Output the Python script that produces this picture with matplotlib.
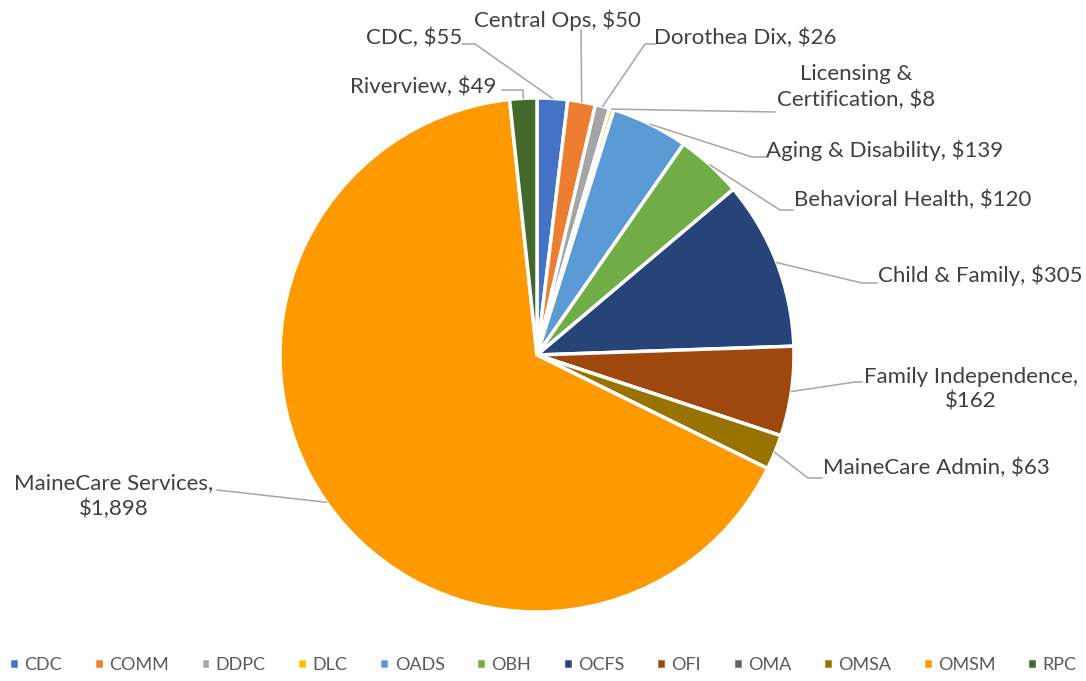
import matplotlib.pyplot as plt
import numpy as np

plt.rcParams['font.family'] = ['Lato', 'DejaVu Sans']

codes = ['CDC', 'COMM', 'DDPC', 'DLC', 'OADS', 'OBH', 'OCFS', 'OFI', 'OMA', 'OMSA', 'OMSM', 'RPC']
values = [55, 50, 26, 8, 139, 120, 305, 162, 0, 63, 1898, 49]
names = ['CDC, ', 'Central Ops, ', 'Dorothea Dix, ', 'Licensing &\nCertification, ', 'Aging & Disability, ',
         'Behavioral Health, ', 'Child & Family, ', 'Family Independence,\n', None, 'MaineCare Admin, ',
         'MaineCare Services,\n', 'Riverview, ']
colors = ['#4472C4', '#ED7D31', '#A5A5A5', '#FFC000', '#5B9BD5', '#70AD47',
          '#264478', '#9E480E', '#636363', '#997300', '#FF9900', '#43682B']

# label layout in pixels: text centre, then leader line points after the slice edge
label_pos = {
    0: ((414, 38), [(475, 44), (462, 44)]),
    1: ((557, 20), [(581, 30)]),
    2: ((745, 38), [(645, 44), (655, 44)]),
    3: ((856, 87), [(775, 112)]),
    4: ((885, 150), [(752, 157), (768, 157)]),
    5: ((913, 200), [(780, 210), (793, 210)]),
    6: ((980, 275), [(862, 283), (877, 283)]),
    7: ((971, 389), [(855, 382), (862, 382)]),
    9: ((936, 468), [(808, 478), (822, 478)]),
    10: ((114, 496), [(217, 490)]),
    11: ((423, 87), [(523, 90), (502, 90)]),
}

W, H = 1086, 681
cx, cy, R = 537, 355, 257

fig = plt.figure(figsize=(W / 100, H / 100), dpi=100)
ax = fig.add_axes([0, 0, 1, 1])


def px(x, y):
    return (x - cx) / R, (cy - y) / R


wedges, _ = ax.pie(values, colors=colors, startangle=90, counterclock=False, radius=1.0,
                   wedgeprops=dict(edgecolor='white', linewidth=2.5))
ax.set_xlim(-cx / R, (W - cx) / R)
ax.set_ylim(-(H - cy) / R, cy / R)
ax.set_aspect('equal')
ax.axis('off')

for i, w in enumerate(wedges):
    if i not in label_pos:
        continue
    (tx, ty), pts = label_pos[i]
    mid = np.deg2rad((w.theta1 + w.theta2) / 2)
    xs, ys = [np.cos(mid)], [np.sin(mid)]
    for p in pts:
        x, y = px(*p)
        xs.append(x)
        ys.append(y)
    ax.plot(xs, ys, color='#A6A6A6', lw=1.1)
    text = names[i] + '${:,}'.format(values[i])
    x, y = px(tx, ty)
    ax.text(x, y, text, ha='center', va='center', fontsize=16, color='#404040', linespacing=1.3)

ax.legend(wedges, codes, loc='lower center', bbox_to_anchor=(0.5, -0.012), ncol=12, frameon=False,
          fontsize=13, handlelength=0.55, handleheight=0.55, handletextpad=0.3, columnspacing=1.75,
          labelcolor='#595959')

fig.savefig('out.png', dpi=100)
